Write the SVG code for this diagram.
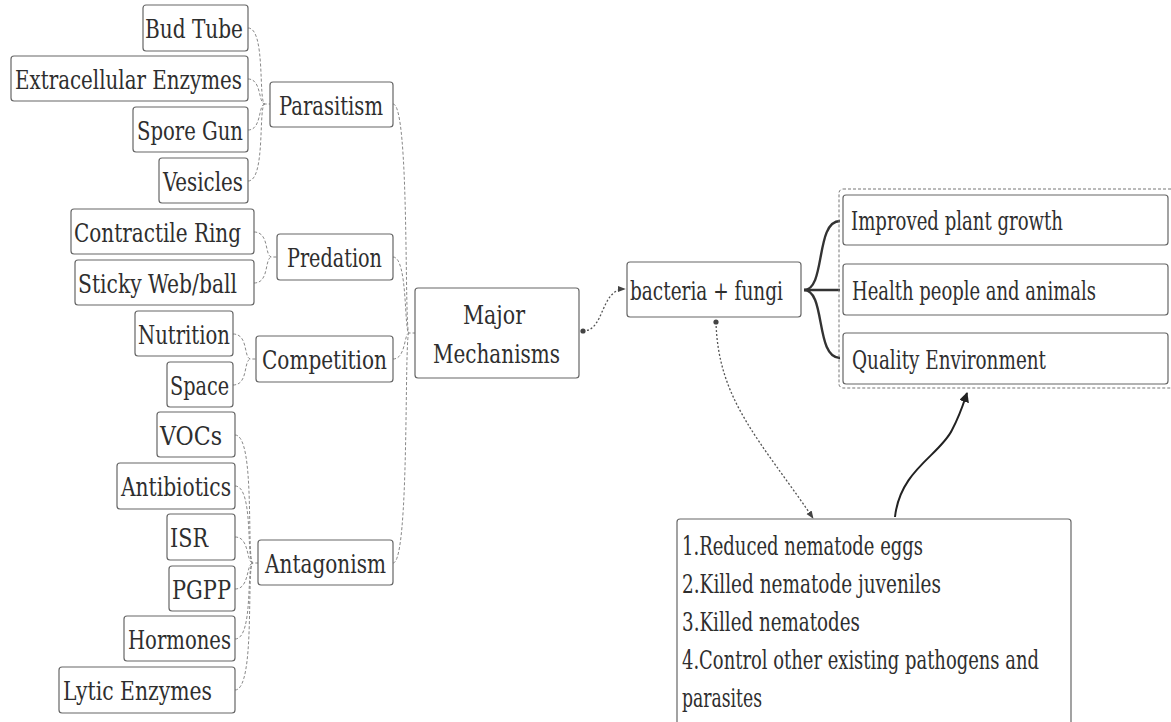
<svg xmlns="http://www.w3.org/2000/svg" width="1171" height="722" viewBox="0 0 1171 722">
<style>
.box{fill:#fff;stroke:#666;stroke-width:1.2}
.t{fill:#2e2e2e;font-family:"DejaVu Serif Condensed","DejaVu Serif",serif;font-stretch:condensed;font-size:26px}
.c{fill:none;stroke:#888;stroke-width:1;stroke-dasharray:3 2}
.m{fill:none;stroke:#555;stroke-width:1.3;stroke-dasharray:2 2}
.b{fill:none;stroke:#333;stroke-width:2.4}
</style>
<defs>
<marker id="ah" viewBox="0 0 10 10" refX="9" refY="5" markerWidth="6" markerHeight="6" orient="auto"><path d="M0 1 L10 5 L0 9 Z" fill="#444"/></marker>
<marker id="ahb" viewBox="0 0 10 10" refX="9" refY="5" markerWidth="5" markerHeight="5" orient="auto"><path d="M0 0 L10 5 L0 10 Z" fill="#222"/></marker>
<marker id="dot" viewBox="0 0 10 10" refX="5" refY="5" markerWidth="5" markerHeight="5"><circle cx="5" cy="5" r="4" fill="#444"/></marker>
</defs>
<rect width="1171" height="722" fill="#fff"/>
<g id="connectors">
<path class="c" d="M248 28 C266 28 258 104 265 104 L270 104"/>
<path class="c" d="M248 79 C262 79 258 104 265 104"/>
<path class="c" d="M248 130 C262 130 258 104 265 104"/>
<path class="c" d="M248 181 C266 181 258 104 265 104"/>
<path class="c" d="M254 232 C270 232 264 257 272 257 L277 257"/>
<path class="c" d="M254 283 C270 283 264 257 272 257"/>
<path class="c" d="M233 334 C249 334 243 359 251 359 L256 359"/>
<path class="c" d="M233 385 C249 385 243 359 251 359"/>
<path class="c" d="M235 435 C256 435 246 563 253 563 L258 563"/>
<path class="c" d="M235 486 C254 486 246 563 253 563"/>
<path class="c" d="M235 537 C250 537 246 563 253 563"/>
<path class="c" d="M235 589 C250 589 246 563 253 563"/>
<path class="c" d="M235 639 C254 639 246 563 253 563"/>
<path class="c" d="M235 690 C256 690 246 563 253 563"/>
<path class="c" d="M393 104 C410 104 404 333 409 333 L415 333"/>
<path class="c" d="M393 257 C408 257 404 333 409 333"/>
<path class="c" d="M393 359 C406 359 404 333 409 333"/>
<path class="c" d="M393 563 C410 563 404 333 409 333"/>
<path class="m" d="M583 331 C605 331 600 289 625 289" marker-start="url(#dot)" marker-end="url(#ah)"/>
<path class="b" d="M804 290 C826 290 815 221 840 221"/>
<path class="b" d="M804 290 L840 290"/>
<path class="b" d="M804 290 C826 290 815 358 840 358"/>
<path class="m" d="M716 322 C718 400 760 440 813 518" marker-start="url(#dot)" marker-end="url(#ah)"/>
<path fill="none" stroke="#222" stroke-width="2" d="M895 517 C900 470 940 455 952 430 C960 415 963 405 967 393" marker-end="url(#ahb)"/>
</g>
<g id="nodes">
<g id="n-budtube"><rect class="box" x="143" y="5" width="105" height="46" rx="3"/><text class="t" x="145" y="38" textLength="98" lengthAdjust="spacingAndGlyphs">Bud Tube</text></g>
<g id="n-extra"><rect class="box" x="11" y="56" width="237" height="45" rx="3"/><text class="t" x="15" y="89" textLength="227" lengthAdjust="spacingAndGlyphs">Extracellular Enzymes</text></g>
<g id="n-spore"><rect class="box" x="133" y="107" width="115" height="45" rx="3"/><text class="t" x="137" y="140" textLength="106" lengthAdjust="spacingAndGlyphs">Spore Gun</text></g>
<g id="n-vesicles"><rect class="box" x="159" y="158" width="89" height="45" rx="3"/><text class="t" x="163" y="191" textLength="80" lengthAdjust="spacingAndGlyphs">Vesicles</text></g>
<g id="n-parasitism"><rect class="box" x="270" y="82" width="123" height="45" rx="3"/><text class="t" x="279" y="115" textLength="104" lengthAdjust="spacingAndGlyphs">Parasitism</text></g>
<g id="n-contractile"><rect class="box" x="71" y="209" width="183" height="45" rx="3"/><text class="t" x="74" y="242" textLength="167" lengthAdjust="spacingAndGlyphs">Contractile Ring</text></g>
<g id="n-sticky"><rect class="box" x="75" y="260" width="179" height="45" rx="3"/><text class="t" x="78" y="293" textLength="159" lengthAdjust="spacingAndGlyphs">Sticky Web/ball</text></g>
<g id="n-predation"><rect class="box" x="277" y="234" width="116" height="46" rx="3"/><text class="t" x="287" y="267" textLength="95" lengthAdjust="spacingAndGlyphs">Predation</text></g>
<g id="n-nutrition"><rect class="box" x="135" y="311" width="98" height="45" rx="3"/><text class="t" x="138" y="344" textLength="92" lengthAdjust="spacingAndGlyphs">Nutrition</text></g>
<g id="n-space"><rect class="box" x="167" y="362" width="66" height="45" rx="3"/><text class="t" x="170" y="395" textLength="59" lengthAdjust="spacingAndGlyphs">Space</text></g>
<g id="n-competition"><rect class="box" x="256" y="336" width="137" height="46" rx="3"/><text class="t" x="262" y="369" textLength="125" lengthAdjust="spacingAndGlyphs">Competition</text></g>
<g id="n-vocs"><rect class="box" x="157" y="412" width="78" height="45" rx="3"/><text class="t" x="160" y="445" textLength="62" lengthAdjust="spacingAndGlyphs">VOCs</text></g>
<g id="n-antibiotics"><rect class="box" x="117" y="463" width="118" height="46" rx="3"/><text class="t" x="121" y="496" textLength="110" lengthAdjust="spacingAndGlyphs">Antibiotics</text></g>
<g id="n-isr"><rect class="box" x="167" y="514" width="68" height="46" rx="3"/><text class="t" x="170" y="547" textLength="38" lengthAdjust="spacingAndGlyphs">ISR</text></g>
<g id="n-pgpp"><rect class="box" x="169" y="566" width="66" height="45" rx="3"/><text class="t" x="172" y="599" textLength="59" lengthAdjust="spacingAndGlyphs">PGPP</text></g>
<g id="n-hormones"><rect class="box" x="124" y="616" width="111" height="45" rx="3"/><text class="t" x="128" y="649" textLength="103" lengthAdjust="spacingAndGlyphs">Hormones</text></g>
<g id="n-lytic"><rect class="box" x="59" y="667" width="176" height="46" rx="3"/><text class="t" x="63" y="700" textLength="149" lengthAdjust="spacingAndGlyphs">Lytic Enzymes</text></g>
<g id="n-antagonism"><rect class="box" x="258" y="540" width="135" height="45" rx="3"/><text class="t" x="265" y="573" textLength="121" lengthAdjust="spacingAndGlyphs">Antagonism</text></g>
<g id="n-major"><rect class="box" x="415" y="288" width="164" height="90" rx="3"/><text class="t" x="463" y="324" textLength="62" lengthAdjust="spacingAndGlyphs">Major</text><text class="t" x="433" y="363" textLength="127" lengthAdjust="spacingAndGlyphs">Mechanisms</text></g>
<g id="n-bacteria"><rect class="box" x="627" y="262" width="174" height="55" rx="3"/><text class="t" x="630" y="300" textLength="153" lengthAdjust="spacingAndGlyphs">bacteria + fungi</text></g>
<g id="n-group"><rect x="839" y="189" width="340" height="199" rx="4" fill="none" stroke="#777" stroke-width="1" stroke-dasharray="3 2"/></g>
<g id="n-improved"><rect class="box" x="843" y="195" width="325" height="50" rx="3"/><text class="t" x="851" y="230" textLength="212" lengthAdjust="spacingAndGlyphs">Improved plant growth</text></g>
<g id="n-health"><rect class="box" x="843" y="264" width="325" height="51" rx="3"/><text class="t" x="852" y="300" textLength="244" lengthAdjust="spacingAndGlyphs">Health people and animals</text></g>
<g id="n-quality"><rect class="box" x="843" y="333" width="325" height="51" rx="3"/><text class="t" x="852" y="369" textLength="194" lengthAdjust="spacingAndGlyphs">Quality Environment</text></g>
<g id="n-results"><rect class="box" x="677" y="519" width="394" height="215" rx="3"/>
<text class="t" x="682" y="555" textLength="241" lengthAdjust="spacingAndGlyphs">1.Reduced nematode eggs</text>
<text class="t" x="682" y="593" textLength="259" lengthAdjust="spacingAndGlyphs">2.Killed nematode juveniles</text>
<text class="t" x="682" y="631" textLength="178" lengthAdjust="spacingAndGlyphs">3.Killed nematodes</text>
<text class="t" x="682" y="669" textLength="357" lengthAdjust="spacingAndGlyphs">4.Control other existing pathogens and</text>
<text class="t" x="682" y="707" textLength="80" lengthAdjust="spacingAndGlyphs">parasites</text>
</g>
</g>
</svg>
